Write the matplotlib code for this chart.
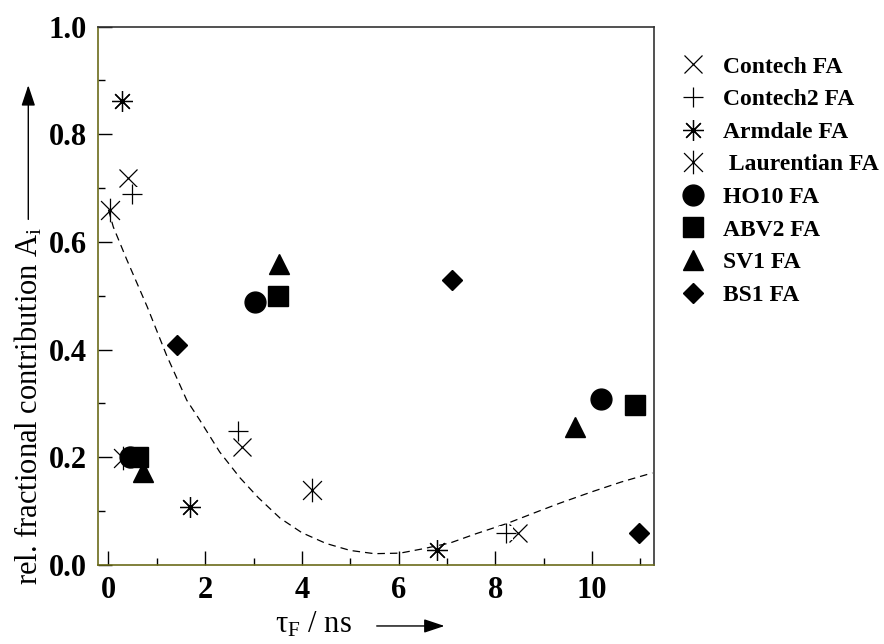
import numpy as np
import matplotlib
matplotlib.use("Agg")
import matplotlib.pyplot as plt
from matplotlib.path import Path
from matplotlib.patches import FancyArrowPatch
from matplotlib.ticker import MultipleLocator, FormatStrFormatter

# lifetimes (ns) and fractional contributions of the three components per sample
contech_tau = [0.41, 2.76, 8.48]
contech_a = [0.718, 0.22, 0.059]
contech2_tau = [0.48, 2.67, 8.23]
contech2_a = [0.69, 0.248, 0.059]
armdale_tau = [0.28, 1.69, 6.79]
armdale_a = [0.861, 0.108, 0.028]
laurentian_tau = [0.035, 0.31, 4.2]
laurentian_a = [0.66, 0.198, 0.14]
ho10_tau = [0.45, 3.03, 10.18]
ho10_a = [0.20, 0.489, 0.308]
abv2_tau = [0.62, 3.50, 10.89]
abv2_a = [0.20, 0.50, 0.298]
sv1_tau = [0.71, 3.52, 9.64]
sv1_a = [0.173, 0.56, 0.257]
bs1_tau = [1.42, 7.10, 10.98]
bs1_a = [0.409, 0.53, 0.059]

# trend curve (dashed)
trend_tau = [0.0, 0.1, 0.38, 0.8, 1.2, 1.62, 1.89, 2.3, 2.72, 3.1, 3.55, 4.0, 4.5,
             5.0, 5.5, 6.03, 6.5, 7.07, 7.6, 8.24, 8.9, 9.34, 10.0, 10.6, 11.25]
trend_a = [0.66, 0.628, 0.567, 0.48, 0.39, 0.306, 0.269, 0.21, 0.162, 0.125, 0.087, 0.060, 0.040,
           0.027, 0.021, 0.022, 0.030, 0.041, 0.058, 0.077, 0.100, 0.115, 0.136, 0.154, 0.171]

plt.rcParams["font.family"] = ["Liberation Serif", "DejaVu Serif"]
plt.rcParams["mathtext.fontset"] = "custom"
plt.rcParams["mathtext.rm"] = "Liberation Serif"
plt.rcParams["mathtext.it"] = "Liberation Serif:italic"

# X with a vertical bar through it
laur_marker = Path(
    [(-1, -1), (1, 1), (-1, 1), (1, -1), (0, -1.25), (0, 1.25)],
    [Path.MOVETO, Path.LINETO, Path.MOVETO, Path.LINETO, Path.MOVETO, Path.LINETO],
)

fig = plt.figure(figsize=(8.84, 6.44), dpi=100)
ax = fig.add_axes([0.1112, 0.1227, 0.6290, 0.8359])

ax.plot(trend_tau, trend_a, color="black", lw=0.9, linestyle=(0, (6, 4)))

thin = dict(color="black", linestyle="none", markeredgewidth=0.9)
filled = dict(color="black", linestyle="none")
ax.plot(contech_tau, contech_a, marker="x", markersize=13, label="Contech FA", **thin)
# the plus symbols sit on a white square that masks what lies underneath
ax.plot(contech2_tau, contech2_a, marker="s", markersize=10, color="white",
        markeredgewidth=0, linestyle="none")
ax.plot(contech2_tau, contech2_a, marker="+", markersize=14, label="Contech2 FA", **thin)
ax.plot(armdale_tau, armdale_a, marker=(8, 2, 0), markersize=15, label="Armdale FA", **thin)
ax.plot(laurentian_tau, laurentian_a, marker=laur_marker, markersize=17, label=" Laurentian FA", **thin)
ax.plot(ho10_tau, ho10_a, marker="o", markersize=15, label="HO10 FA", **filled)
ax.plot(abv2_tau, abv2_a, marker="s", markersize=14, label="ABV2 FA", **filled)
ax.plot(sv1_tau, sv1_a, marker="^", markersize=14, label="SV1 FA", **filled)
ax.plot(bs1_tau, bs1_a, marker="D", markersize=10, label="BS1 FA", **filled)

ax.set_xlim(-0.21, 11.29)
ax.set_ylim(0, 1.0)
ax.xaxis.set_major_locator(MultipleLocator(2))
ax.xaxis.set_minor_locator(MultipleLocator(1))
ax.yaxis.set_major_locator(MultipleLocator(0.2))
ax.yaxis.set_minor_locator(MultipleLocator(0.1))
ax.yaxis.set_major_formatter(FormatStrFormatter("%.1f"))
ax.tick_params(which="both", direction="in", top=False, right=False,
               width=1, color="black", labelsize=22, pad=8)
ax.tick_params(which="major", length=10)
ax.tick_params(which="minor", length=5)
for lab in ax.get_xticklabels() + ax.get_yticklabels():
    lab.set_fontweight("bold")

for side in ["left", "bottom"]:
    ax.spines[side].set_color("#6b6b1a")
for side in ["top", "right"]:
    ax.spines[side].set_color("#333333")
for sp in ax.spines.values():
    sp.set_linewidth(1.2)

# axis labels with arrows
fig.text(0.032, 0.37, r"rel. fractional contribution $\mathregular{A_i}$", rotation=90,
         ha="center", va="center", fontsize=22)
fig.patches.append(FancyArrowPatch(
    (0.032, 0.655), (0.032, 0.872), transform=fig.transFigure,
    arrowstyle="-|>,head_length=0.9,head_width=0.3", mutation_scale=14, color="black", lw=1))
fig.text(0.355, 0.03, r"$\mathregular{\tau_F}$ / ns", ha="center", va="center", fontsize=22)
fig.patches.append(FancyArrowPatch(
    (0.423, 0.028), (0.506, 0.028), transform=fig.transFigure,
    arrowstyle="-|>,head_length=0.9,head_width=0.3", mutation_scale=14, color="black", lw=1))

leg = ax.legend(loc="upper left", bbox_to_anchor=(681 / 884, 1 - 56 / 644),
                bbox_transform=fig.transFigure, frameon=False, numpoints=1,
                prop={"weight": "bold", "size": 17}, handlelength=1.0,
                handletextpad=0.78, labelspacing=0.47, borderpad=0, borderaxespad=0)

fig.savefig("out.png", dpi=100)
